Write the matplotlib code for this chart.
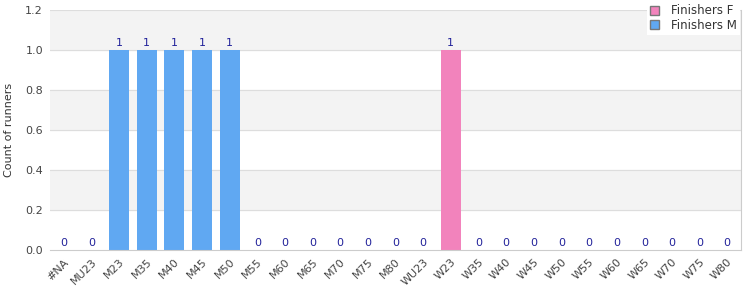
import matplotlib.pyplot as plt
from matplotlib.patches import Patch
import numpy as np

categories = ['#NA', 'MU23', 'M23', 'M35', 'M40', 'M45', 'M50', 'M55', 'M60', 'M65',
              'M70', 'M75', 'M80', 'WU23', 'W23', 'W35', 'W40', 'W45', 'W50', 'W55',
              'W60', 'W65', 'W70', 'W75', 'W80']
finishers_m = [0, 0, 1, 1, 1, 1, 1, 0, 0, 0, 0, 0, 0, 0, 0, 0, 0, 0, 0, 0, 0, 0, 0, 0, 0]
finishers_f = [0, 0, 0, 0, 0, 0, 0, 0, 0, 0, 0, 0, 0, 0, 1, 0, 0, 0, 0, 0, 0, 0, 0, 0, 0]

col_m = '#60a8f2'
col_f = '#f283bc'

fig = plt.figure(figsize=(7.5, 3), dpi=100)
ax = fig.add_axes([50/750, 50/300, 691/750, 240/300])

x = np.arange(len(categories))
ax.set_xlim(-0.5, len(categories) - 0.5)
ax.set_ylim(0, 1.2)

# alternating bands
for lo in [0.2, 0.6, 1.0]:
    ax.axhspan(lo, lo + 0.2, color='#f3f3f3', zorder=0)
for y in np.arange(0.2, 1.21, 0.2):
    ax.axhline(y, color='#dddddd', lw=0.8, zorder=1)

ax.bar(x, finishers_m, width=0.72, color=col_m, zorder=2)
ax.bar(x, finishers_f, width=0.72, bottom=finishers_m, color=col_f, zorder=2)

totals = np.array(finishers_m) + np.array(finishers_f)
for xi, t in zip(x, totals):
    ax.text(xi, t + 0.012, str(t), ha='center', va='bottom', fontsize=8,
            color='#22229a', zorder=3)

ax.set_yticks(np.arange(0, 1.21, 0.2))
ax.set_yticklabels(['%.1f' % v for v in np.arange(0, 1.21, 0.2)])
ax.set_xticks(x)
ax.set_xticklabels(categories, rotation=45, ha='right', rotation_mode='anchor')
ax.tick_params(axis='both', length=0, labelsize=8, colors='#444444', pad=5)
ax.set_ylabel('Count of runners', fontsize=8, color='#333333', labelpad=8)

for s in ['top', 'left']:
    ax.spines[s].set_visible(False)
for s in ['bottom', 'right']:
    ax.spines[s].set_color('#cccccc')

handles = [Patch(facecolor=col_f, edgecolor='#777777', label='Finishers F'),
           Patch(facecolor=col_m, edgecolor='#777777', label='Finishers M')]
leg = fig.legend(handles=handles, loc='upper right', bbox_to_anchor=(741/750, 1.0),
                 fontsize=8.5, frameon=True, fancybox=False, framealpha=1,
                 edgecolor='white', handlelength=0.8, handleheight=0.8,
                 borderpad=0.25, labelspacing=0.15, handletextpad=1.0,
                 borderaxespad=0.1)
leg.get_frame().set_linewidth(0)
for t in leg.get_texts():
    t.set_color('#333333')

fig.savefig('out.png', dpi=100)
